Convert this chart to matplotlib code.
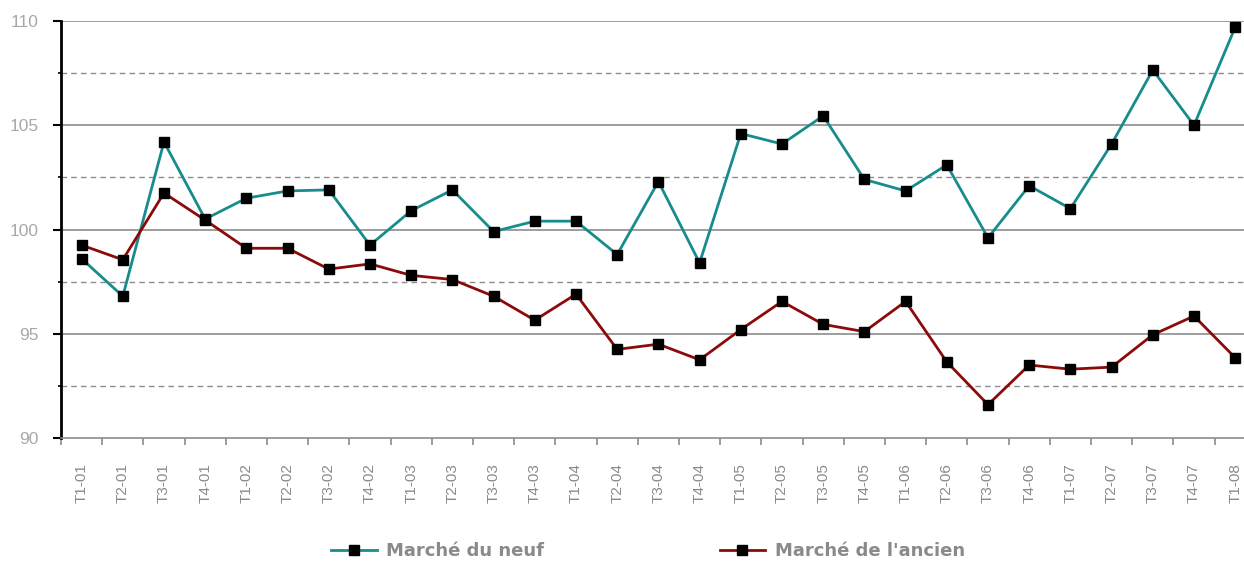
import numpy as np
from matplotlib import pyplot as plt
from matplotlib.lines import Line2D

# trimestres
quarters = ['T1-01', 'T2-01', 'T3-01', 'T4-01',
            'T1-02', 'T2-02', 'T3-02', 'T4-02',
            'T1-03', 'T2-03', 'T3-03', 'T4-03',
            'T1-04', 'T2-04', 'T3-04', 'T4-04',
            'T1-05', 'T2-05', 'T3-05', 'T4-05',
            'T1-06', 'T2-06', 'T3-06', 'T4-06',
            'T1-07', 'T2-07', 'T3-07', 'T4-07',
            'T1-08']

neuf = [98.6, 96.8, 104.2, 100.5, 101.5, 101.85, 101.9, 99.25,
        100.9, 101.9, 99.9, 100.4, 100.4, 98.8, 102.3, 98.4,
        104.6, 104.1, 105.45, 102.4, 101.85, 103.1, 99.6, 102.1,
        101.0, 104.1, 107.65, 105.0, 109.7]

ancien = [99.25, 98.55, 101.75, 100.45, 99.1, 99.1, 98.1, 98.35,
          97.8, 97.6, 96.8, 95.65, 96.9, 94.25, 94.5, 93.75,
          95.2, 96.55, 95.45, 95.1, 96.55, 93.65, 91.6, 93.5,
          93.3, 93.4, 94.95, 95.85, 93.85]

teal = '#178c8c'
red = '#8c0a0a'
txt = '#8a8a8a'

fig = plt.figure(figsize=(12.44, 5.63), dpi=100)
ax = fig.add_axes([61 / 1244, 1 - 438 / 563, 1 - 61 / 1244, (438 - 21) / 563])

x = np.arange(len(quarters))
ax.plot(x, neuf, color=teal, lw=2, marker='s', ms=7, mfc='black', mec='black', zorder=3)
ax.plot(x, ancien, color=red, lw=2, marker='s', ms=7, mfc='black', mec='black', zorder=3)

# grille
for v in [95, 100, 105, 110]:
    ax.axhline(v, color='#8c8c8c', lw=1.2, zorder=1)
for v in [92.5, 97.5, 102.5, 107.5]:
    ax.axhline(v, color='#8c8c8c', lw=1.0, ls=(0, (4, 3)), zorder=1)

ax.set_yticks([90, 95, 100, 105, 110])
ax.set_yticks([92.5, 97.5, 102.5, 107.5], minor=True)
ax.tick_params(axis='y', which='major', length=6, width=1.5, color='black',
               labelsize=12.5, labelcolor='#a8a8a8', pad=10)
ax.tick_params(axis='y', which='minor', length=2, width=1.2, color='black')

# x: traits aux limites, étiquettes au centre
ax.set_xticks(np.arange(len(quarters) + 1) - 0.5)
ax.set_xticklabels([])
ax.set_xticks(x, minor=True)
ax.set_xticklabels(quarters, minor=True, rotation=90, fontsize=11, color=txt,
                   fontfamily='Liberation Sans')
ax.tick_params(axis='x', which='major', length=5, width=1.2, color='#8c8c8c')
ax.tick_params(axis='x', which='minor', length=0, pad=18)
for lab in ax.get_yticklabels():
    lab.set_fontfamily('Liberation Sans')

# limites après les ticks (le graphique est coupé à droite)
ax.set_ylim(90, 110)
ax.set_xlim(-0.5, -0.5 + 1183 / 41.2)

for s in ['top', 'right']:
    ax.spines[s].set_visible(False)
ax.spines['left'].set_color('black')
ax.spines['left'].set_linewidth(2)
ax.spines['bottom'].set_color('#8c8c8c')
ax.spines['bottom'].set_linewidth(1.2)

handles = [Line2D([], [], color=teal, lw=2, marker='s', ms=7, mfc='black', mec='black'),
           Line2D([], [], color=red, lw=2, marker='s', ms=7, mfc='black', mec='black')]
leg = fig.legend(handles, ['Marché du neuf', "Marché de l'ancien"], loc='center',
                 bbox_to_anchor=(0.521, 0.021), ncol=2, frameon=False,
                 handlelength=2.5, handletextpad=0.55, columnspacing=9.7,
                 prop={'weight': 'bold', 'size': 13})
for t in leg.get_texts():
    t.set_color(txt)

plt.savefig('out.png', dpi=100)
